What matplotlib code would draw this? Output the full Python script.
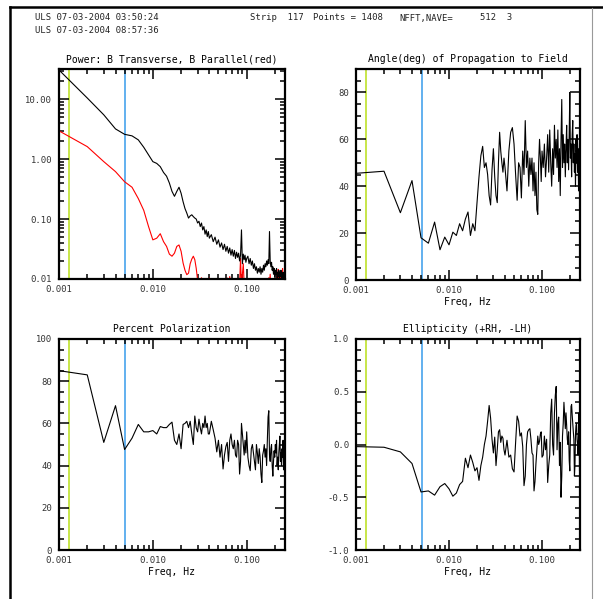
import numpy as np
import matplotlib
matplotlib.use("Agg")
import matplotlib.pyplot as plt
from matplotlib.lines import Line2D
from matplotlib.ticker import LogLocator, MultipleLocator, FuncFormatter, NullFormatter

# FFT bin numbers used (all low bins, thinned at high freq), 1 bin = 0.001 Hz
bins = list(range(1, 41)) + list(range(42, 101, 2)) + list(range(103, 257, 3))
freq = np.array(bins) / 1000.0

# Power, B transverse (black)
power_perp = [30.8, 10.5, 5.5, 3.2, 2.6, 2.45, 2.1, 1.58, 1.18, 0.91,
              0.85, 0.75, 0.6, 0.52, 0.40, 0.29, 0.24, 0.29, 0.34, 0.27,
              0.195, 0.15, 0.126, 0.104, 0.113, 0.118, 0.11, 0.104, 0.1, 0.086,
              0.092, 0.075, 0.086, 0.066, 0.075, 0.056, 0.066, 0.051, 0.062, 0.048,
              0.055, 0.042, 0.05, 0.038, 0.045, 0.034, 0.04, 0.031, 0.038, 0.029,
              0.035, 0.027, 0.033, 0.025, 0.031, 0.024, 0.03, 0.022, 0.028, 0.023,
              0.027, 0.02, 0.025, 0.066, 0.018, 0.026, 0.021, 0.025, 0.019, 0.022,
              0.024, 0.018, 0.022, 0.017, 0.02, 0.015, 0.018, 0.014, 0.016, 0.0125,
              0.015, 0.013, 0.016, 0.012, 0.015, 0.013, 0.017, 0.014, 0.018, 0.016,
              0.02, 0.017, 0.021, 0.018, 0.062, 0.02, 0.016, 0.019, 0.014, 0.016,
              0.012, 0.015, 0.011, 0.014, 0.012, 0.015, 0.0105, 0.013, 0.011, 0.014,
              0.0095, 0.013, 0.011, 0.014, 0.0098, 0.012, 0.0105, 0.013, 0.0095, 0.012,
              0.0105, 0.012]

# Power, B parallel (red)
power_par = [2.97, 1.62, 0.91, 0.62, 0.42, 0.34, 0.22, 0.14, 0.075, 0.045,
             0.048, 0.057, 0.042, 0.035, 0.026, 0.024, 0.027, 0.035, 0.037, 0.029,
             0.0185, 0.014, 0.0118, 0.0125, 0.018, 0.0215, 0.024, 0.021, 0.015, 0.0095,
             0.007, 0.008, 0.0105, 0.0085, 0.007, 0.009, 0.006, 0.0075, 0.008, 0.0104,
             0.007, 0.0085, 0.006, 0.0102, 0.007, 0.008, 0.0065, 0.009, 0.006, 0.0075,
             0.0104, 0.007, 0.011, 0.008, 0.006, 0.009, 0.0065, 0.008, 0.007, 0.009,
             0.006, 0.008, 0.022, 0.007, 0.012, 0.018, 0.008, 0.006, 0.009, 0.007,
             0.006, 0.008, 0.007, 0.009, 0.006, 0.008, 0.0065, 0.009, 0.007, 0.008,
             0.006, 0.0085, 0.007, 0.009, 0.006, 0.008, 0.007, 0.009, 0.0065, 0.008,
             0.007, 0.0095, 0.007, 0.0105, 0.008, 0.012, 0.007, 0.009, 0.0065, 0.0085,
             0.007, 0.009, 0.0065, 0.008, 0.007, 0.0095, 0.012, 0.007, 0.0145, 0.008,
             0.011, 0.007, 0.0135, 0.008, 0.0125, 0.007, 0.015, 0.0085, 0.012, 0.007,
             0.014, 0.009]

# Angle of propagation to field (deg)
angle = [45.5, 46.4, 28.7, 42.4, 18, 15.7, 24.7, 12.9, 18.3, 15,
         20.4, 19, 24, 21, 26, 29, 19, 24, 21, 33,
         44, 53, 57, 48, 50, 45, 36, 32, 47, 56,
         44, 36, 33, 50, 63, 55, 50, 46, 52, 48,
         38, 55, 63, 65, 58, 45, 34, 50, 48, 35,
         55, 45, 68, 48, 55, 40, 52, 45, 52, 38,
         50, 36, 46, 30, 28, 50, 60, 52, 42, 55,
         48, 58, 44, 52, 62, 46, 64, 50, 40, 56,
         45, 66, 52, 60, 48, 64, 42, 56, 36, 60,
         77, 48, 62, 50, 58, 44, 56, 66, 50, 60,
         47, 63, 80, 52, 58, 44, 62, 68, 50, 58,
         46, 54, 40, 60, 50, 62, 46, 56, 38, 52,
         60, 48]

# Percent polarization
polar = [85, 83, 51, 68.4, 47.6, 53, 59.5, 56, 56, 56.6,
         55, 58.5, 58, 58, 59.5, 60.6, 52, 50, 55, 48,
         59.5, 60, 61, 58, 61, 55, 50, 63.5, 58, 56,
         62, 58, 55, 60, 58, 63.5, 58, 60, 55, 55,
         61, 57, 53, 46.5, 52, 44, 50, 38.4, 45, 49,
         51, 42, 52, 55, 50, 48, 52, 45, 44, 52,
         50, 36, 42, 60, 55, 50, 45, 52, 46, 56,
         44, 40, 37.6, 48, 50, 46, 42, 38, 50, 46,
         41, 48, 44, 36, 32, 45, 47, 50, 44, 48,
         40, 52, 63, 66, 45, 42, 48, 50, 40, 35,
         42, 47, 44, 50, 46, 52, 40, 44, 38, 46,
         50, 54, 42, 46, 40, 48, 44, 52, 38, 48,
         42, 46]

# Ellipticity (+RH, -LH)
ellip = [-0.02, -0.026, -0.07, -0.18, -0.45, -0.44, -0.48, -0.40, -0.37, -0.42,
         -0.49, -0.46, -0.38, -0.35, -0.13, -0.22, -0.10, -0.17, -0.25, -0.22,
         -0.34, -0.2, -0.12, 0.0, 0.08, 0.22, 0.37, 0.25, 0.05, -0.08,
         0.07, -0.2, -0.05, 0.12, 0.14, 0.02, 0.08, 0.06, -0.05, -0.1,
         0.04, -0.12, -0.1, -0.23, -0.26, 0.02, 0.27, 0.22, 0.08, 0.11,
         -0.02, -0.39, -0.3, 0.0, 0.12, 0.14, 0.15, 0.05, -0.08, -0.1,
         -0.44, -0.35, -0.18, -0.05, 0.08, 0.0, 0.03, 0.1, 0.12, -0.12,
         -0.1, 0.08, -0.05, 0.05, -0.36, -0.2, -0.1, 0.3, 0.43, 0.0,
         -0.1, 0.3, 0.47, 0.55, -0.05, 0.2, 0.26, -0.2, 0.02, -0.5,
         -0.3, 0.08, 0.2, 0.4, 0.28, 0.15, 0.3, 0.18, 0.05, 0.0,
         0.12, -0.15, -0.25, 0.1, 0.36, 0.38, 0.28, 0.2, 0.12, 0.05,
         -0.3, -0.2, 0.1, 0.18, 0.2, 0.05, 0.0, -0.1, 0.12, 0.3,
         -0.25, 0.1]

# marker frequencies (yellow, blue)
f_yellow = 0.00127
f_blue = 0.0051

W, H = 603, 599
MONO = "DejaVu Sans Mono"
plt.rcParams["font.family"] = MONO

fig = plt.figure(figsize=(W / 100, H / 100), dpi=100)
fig.patch.set_facecolor("white")


def box(l, t, r, b):
    return [l / W, 1 - b / H, (r - l) / W, (b - t) / H]


def style(ax, title, xlabel=True):
    ax.set_xscale("log")
    ax.set_xlim(0.001, 0.256)
    ax.xaxis.set_major_locator(LogLocator(base=10))
    ax.xaxis.set_minor_locator(LogLocator(base=10, subs=np.arange(2, 10)))
    ax.xaxis.set_minor_formatter(NullFormatter())
    ax.xaxis.set_major_formatter(FuncFormatter(lambda v, _: f"{v:.3f}"))
    for s in ax.spines.values():
        s.set_linewidth(1.6)
    ax.tick_params(which="both", direction="in", top=True, right=True,
                   width=1.1, labelsize=6.4, labelcolor="#333333")
    ax.tick_params(which="major", length=7)
    ax.tick_params(which="minor", length=3.5)
    ax.tick_params(axis="x", pad=4)
    ax.tick_params(axis="y", pad=5)
    ax.set_title(title, fontsize=7, pad=5)
    if xlabel:
        ax.set_xlabel("Freq, Hz", fontsize=7, labelpad=2)
    ax.axvline(f_yellow, color="#c8e64a", lw=1.4, zorder=1)
    ax.axvline(f_blue, color="#55aaee", lw=1.3, zorder=1)


# Power
ax1 = fig.add_axes(box(59, 69, 285, 279))
style(ax1, "Power: B Transverse, B Parallel(red)", xlabel=False)
ax1.set_yscale("log")
ax1.set_ylim(0.01, 32)
ax1.yaxis.set_minor_formatter(NullFormatter())
ax1.yaxis.set_major_formatter(FuncFormatter(lambda v, _: f"{v:.2f}"))
ax1.plot(freq, power_perp, color="black", lw=0.8, zorder=3)
ax1.plot(freq, power_par, color="red", lw=0.8, zorder=2)

# Angle
ax2 = fig.add_axes(box(356, 69, 580, 280))
style(ax2, "Angle(deg) of Propagation to Field")
ax2.set_ylim(0, 90)
ax2.yaxis.set_major_locator(MultipleLocator(20))
ax2.yaxis.set_minor_locator(MultipleLocator(5))
ax2.yaxis.set_major_formatter(FuncFormatter(lambda v, _: f"{v:.0f}"))
ax2.plot(freq, angle, color="black", lw=0.8, zorder=3)

# Percent polarization
ax3 = fig.add_axes(box(59, 339, 285, 550))
style(ax3, "Percent Polarization")
ax3.set_ylim(0, 100)
ax3.yaxis.set_major_locator(MultipleLocator(20))
ax3.yaxis.set_minor_locator(MultipleLocator(5))
ax3.yaxis.set_major_formatter(FuncFormatter(lambda v, _: f"{v:.0f}"))
ax3.plot(freq, polar, color="black", lw=0.8, zorder=3)

# Ellipticity
ax4 = fig.add_axes(box(356, 339, 580, 550))
style(ax4, "Ellipticity (+RH, -LH)")
ax4.set_ylim(-1, 1)
ax4.yaxis.set_major_locator(MultipleLocator(0.5))
ax4.yaxis.set_minor_locator(MultipleLocator(0.1))
ax4.yaxis.set_major_formatter(FuncFormatter(lambda v, _: f"{v:.1f}"))
ax4.plot(freq, ellip, color="black", lw=0.8, zorder=3)

# header text (baseline aligned)
hdr = dict(fontsize=6.4, va="baseline", ha="left", color="#222222")
fig.text(35 / W, 1 - 20.5 / H, "ULS 07-03-2004 03:50:24", **hdr)
fig.text(35 / W, 1 - 33 / H, "ULS 07-03-2004 08:57:36", **hdr)
fig.text(250 / W, 1 - 20.5 / H, "Strip  117", **hdr)
fig.text(313 / W, 1 - 20.5 / H, "Points = 1408", **hdr)
fig.text(399 / W, 1 - 20.5 / H, "NFFT,NAVE=", **hdr)
fig.text(480 / W, 1 - 20.5 / H, "512  3", **hdr)

# window frame
fig.add_artist(Line2D([10 / W, 1], [1 - 7 / H, 1 - 7 / H], color="black", lw=1.8))
fig.add_artist(Line2D([10 / W, 10 / W], [0, 1 - 7 / H], color="black", lw=1.8))
fig.add_artist(Line2D([592 / W, 592 / W], [0, 1 - 8 / H], color="#999999", lw=0.8))

fig.savefig("out.png", dpi=100)
